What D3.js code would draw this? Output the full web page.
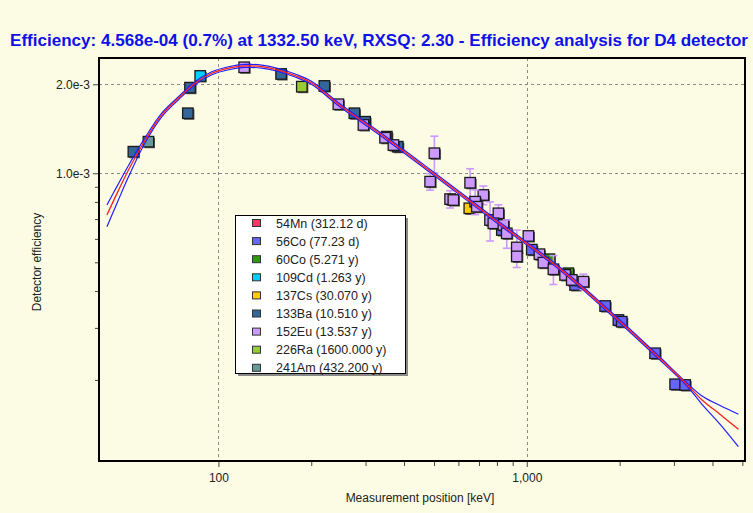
<!DOCTYPE html>
<html><head><meta charset="utf-8">
<script src="https://cdn.jsdelivr.net/npm/d3@7"></script>
<style>body{margin:0;background:#FCFCE4;} svg{display:block;font-family:"Liberation Sans",Arial,sans-serif}</style>
</head><body><svg id="c" width="753" height="513"></svg>
<script>
// ---------- data ----------
const nuclides = ["54Mn","56Co","60Co","109Cd","137Cs","133Ba","152Eu","226Ra","241Am"];
const halfLives = ["312.12 d","77.23 d","5.271 y","1.263 y","30.070 y","10.510 y","13.537 y","1600.000 y","432.200 y"];
const nuclideColors = ["#FF3366","#6666FF","#339900","#00CCFF","#FFCC00","#336699","#CC99FF","#99CC33","#669999"];

const co56Energy = [830, 1038, 1434, 1795, 1982, 2032, 2606, 3027, 3262];
const co56Eff    = [6.431e-4, 5.518e-4, 4.191e-4, 3.557e-4, 3.19e-4, 3.148e-4, 2.462e-4, 1.934e-4, 1.923e-4];
const co60Energy = [1184, 1364];
const co60Eff    = [5.121e-4, 4.591e-4];
const cd109Energy = [87.3];
const cd109Eff    = [2.134e-3];
const cs137Energy = [651];
const cs137Eff    = [7.613e-4];
const ba133Energy = [53.0, 79.6, 80.9, 159.7, 220.6, 276, 299, 351.6, 381.6];
const ba133Eff    = [1.183e-3, 1.596e-3, 1.948e-3, 2.167e-3, 1.974e-3, 1.596e-3, 1.494e-3, 1.330e-3, 1.230e-3];
const am241Energy = [59.3];
const am241Eff    = [1.279e-3];
const ra226Energy = [186.4];
const ra226Eff    = [1.963e-3];
const eu152Energy = [121.2, 244.9, 295.3, 347, 369.4, 501.6, 485.9, 564, 578, 655, 723, 680, 688.6, 760, 809, 779, 840, 861, 1012, 928, 928, 1099, 1132, 1220, 1331, 1399, 1526];
const eu152Eff    = [2.283e-3, 1.712e-3, 1.457e-3, 1.319e-3, 1.246e-3, 1.169e-3, 9.37e-4, 8.18e-4, 8.12e-4, 9.29e-4, 8.445e-4, 8.016e-4, 7.709e-4, 6.951e-4, 7.322e-4, 6.774e-4, 6.686e-4, 6.266e-4, 6.137e-4, 5.613e-4, 5.234e-4, 5.325e-4, 4.987e-4, 4.736e-4, 4.532e-4, 4.358e-4, 4.30e-4];
const eu152Err    = [0, 0, 0, 0, 0, 1.66e-4, 6.0e-5, 5.5e-5, 0, 1.07e-4, 6.1e-5, 7.7e-5, 0, 1.05e-4, 5.0e-5, 0, 0, 6.9e-5, 0, 8.1e-5, 0, 0, 0, 5.3e-5, 0, 0, 2.6e-5];

// fitted efficiency curve and its confidence band
const fitEnergy = [43.5, 46.9, 51.1, 57.9, 65.5, 74.2, 84.0, 95.2, 107.8, 122.1, 138.3, 156.5, 177.3, 200.9, 244.5, 347.2, 485.9, 819.2, 1282, 1963, 2606, 3300, 3700, 4250, 4855];
const fitEff   = [7.23e-4, 8.55e-4, 1.026e-3, 1.296e-3, 1.575e-3, 1.793e-3, 2.016e-3, 2.179e-3, 2.266e-3, 2.307e-3, 2.294e-3, 2.235e-3, 2.141e-3, 2.020e-3, 1.716e-3, 1.322e-3, 1.018e-3, 6.74e-4, 4.75e-4, 3.216e-4, 2.448e-4, 1.935e-4, 1.712e-4, 1.525e-4, 1.362e-4];
const fitUpper = [7.81e-4, 9.03e-4, 1.063e-3, 1.322e-3, 1.598e-3, 1.814e-3, 2.040e-3, 2.205e-3, 2.293e-3, 2.334e-3, 2.321e-3, 2.261e-3, 2.166e-3, 2.044e-3, 1.736e-3, 1.337e-3, 1.030e-3, 6.82e-4, 4.81e-4, 3.254e-4, 2.477e-4, 1.957e-4, 1.765e-4, 1.635e-4, 1.531e-4];
const fitLower = [6.60e-4, 7.92e-4, 9.73e-4, 1.271e-3, 1.553e-3, 1.772e-3, 1.993e-3, 2.154e-3, 2.240e-3, 2.280e-3, 2.267e-3, 2.209e-3, 2.116e-3, 1.997e-3, 1.696e-3, 1.307e-3, 1.006e-3, 6.66e-4, 4.70e-4, 3.179e-4, 2.420e-4, 1.912e-4, 1.655e-4, 1.410e-4, 1.189e-4];

const xMajorTicks = [100, 1000];
const xMajorLabels = ["100", "1,000"];
const xMinorTicks = [200, 300, 400, 500, 600, 700, 800, 900, 2000, 3000, 4000, 5000];
const yMajorTicks = [1e-3, 2e-3];
const yMajorLabels = ["1.0e-3", "2.0e-3"];
const yMinorTicks = [2e-4, 3e-4, 4e-4, 5e-4, 6e-4, 7e-4, 8e-4, 9e-4];

const titleText = "Efficiency: 4.568e-04 (0.7%) at 1332.50 keV, RXSQ: 2.30 - Efficiency analysis for D4 detector";
const xTitle = "Measurement position [keV]";
const yTitle = "Detector efficiency";

// ---------- layout ----------
const L = 99, R = 745, T = 58, B = 461;
const svg = d3.select("#c");
const x = d3.scaleLog().domain([41, 5100]).range([L, R]);
const y = d3.scaleLog().domain([1.064e-4, 2.454e-3]).range([B, T]);

svg.append("rect").attr("width", 753).attr("height", 513).attr("fill", "#FCFCE4");

// title
svg.append("text").attr("x", 10).attr("y", 46)
  .attr("textLength", 738).attr("lengthAdjust", "spacingAndGlyphs")
  .style("font-family", "'Liberation Sans Narrow','Arial Narrow','Liberation Sans',Arial,sans-serif")
  .style("font-weight", "bold").style("font-size", "17px").attr("fill", "#1010E8")
  .text(titleText);

// gridlines
const grid = svg.append("g").attr("stroke", "#8a8a8a").attr("stroke-dasharray", "3,3").attr("stroke-width", 1);
xMajorTicks.forEach(v => grid.append("line").attr("x1", Math.round(x(v)) + .5).attr("x2", Math.round(x(v)) + .5).attr("y1", T).attr("y2", B));
yMajorTicks.forEach(v => grid.append("line").attr("y1", Math.round(y(v)) + .5).attr("y2", Math.round(y(v)) + .5).attr("x1", L).attr("x2", R));

// axes
function styleAxis(g) {
  g.select(".domain").remove();
  g.selectAll("line").attr("stroke", "#444");
  g.selectAll("text").attr("fill", "#222").style("font-size", "12px").style("font-family", "'Liberation Sans',Arial,sans-serif");
}
svg.append("g").attr("transform", `translate(0,${B})`)
  .call(d3.axisBottom(x).tickValues(xMajorTicks).tickFormat((d, i) => xMajorLabels[i]).tickSize(6).tickPadding(6))
  .call(styleAxis);
svg.append("g").attr("transform", `translate(0,${B})`)
  .call(d3.axisBottom(x).tickValues(xMinorTicks).tickFormat("").tickSize(5))
  .call(styleAxis);
svg.append("g").attr("transform", `translate(${L},0)`)
  .call(d3.axisLeft(y).tickValues(yMajorTicks).tickFormat((d, i) => yMajorLabels[i]).tickSize(6).tickPadding(3))
  .call(styleAxis);
svg.append("g").attr("transform", `translate(${L},0)`)
  .call(d3.axisLeft(y).tickValues(yMinorTicks).tickFormat("").tickSize(4))
  .call(styleAxis);

svg.append("text").attr("x", 420).attr("y", 502).attr("text-anchor", "middle")
  .style("font-size", "12px").attr("fill", "#222").text(xTitle);
svg.append("text").attr("transform", "translate(41,262) rotate(-90)").attr("text-anchor", "middle")
  .style("font-size", "12px").attr("fill", "#222").text(yTitle);

// points
const plot = svg.append("g");
const groups = [
  [1, co56Energy, co56Eff, null],
  [2, co60Energy, co60Eff, null],
  [3, cd109Energy, cd109Eff, null],
  [4, cs137Energy, cs137Eff, null],
  [5, ba133Energy, ba133Eff, null],
  [8, am241Energy, am241Eff, null],
  [7, ra226Energy, ra226Eff, null],
  [6, eu152Energy, eu152Eff, eu152Err]
];
const S = 10.5;
groups.forEach(([ci, es, fs, errs]) => {
  es.forEach((e, i) => {
    const cx = x(e), cy = y(fs[i]);
    if (errs && errs[i] > 0) {
      const y1 = y(fs[i] + errs[i]), y2 = y(fs[i] - errs[i]);
      const eb = plot.append("g").attr("stroke", nuclideColors[ci]).attr("stroke-width", 1.6);
      eb.append("line").attr("x1", cx).attr("x2", cx).attr("y1", y1).attr("y2", y2);
      eb.append("line").attr("x1", cx - 4).attr("x2", cx + 4).attr("y1", y1).attr("y2", y1);
      eb.append("line").attr("x1", cx - 4).attr("x2", cx + 4).attr("y1", y2).attr("y2", y2);
    }
    plot.append("rect").attr("x", cx - S / 2 + 1.3).attr("y", cy - S / 2 + 1.3).attr("width", S).attr("height", S)
      .attr("fill", "#222").attr("opacity", 0.75);
    plot.append("rect").attr("x", cx - S / 2).attr("y", cy - S / 2).attr("width", S).attr("height", S)
      .attr("fill", nuclideColors[ci]).attr("stroke", "#1a1a1a").attr("stroke-width", 1.3);
  });
});

// curves
const line = d3.line().curve(d3.curveCatmullRom.alpha(0.5));
const mk = arr => fitEnergy.map((e, i) => [x(e), y(arr[i])]);
svg.append("path").attr("d", line(mk(fitUpper))).attr("fill", "none").attr("stroke", "#2020FF").attr("stroke-width", 1.2);
svg.append("path").attr("d", line(mk(fitLower))).attr("fill", "none").attr("stroke", "#2020FF").attr("stroke-width", 1.2);
svg.append("path").attr("d", line(mk(fitEff))).attr("fill", "none").attr("stroke", "#FF2020").attr("stroke-width", 1.3);

// frame
svg.append("rect").attr("x", L).attr("y", T).attr("width", R - L).attr("height", B - T)
  .attr("fill", "none").attr("stroke", "#000").attr("stroke-width", 2);

// legend
const lg = svg.append("g");
lg.append("rect").attr("x", 238).attr("y", 218).attr("width", 170).attr("height", 158).attr("fill", "#8a8a8a");
lg.append("rect").attr("x", 235.5).attr("y", 215.5).attr("width", 170).attr("height", 158).attr("fill", "#fff").attr("stroke", "#000").attr("stroke-width", 1);
nuclides.forEach((n, i) => {
  const ry = 223 + i * 18.1;
  lg.append("rect").attr("x", 252.5).attr("y", ry - 3.5).attr("width", 8).attr("height", 7)
    .attr("fill", nuclideColors[i]).attr("stroke", "#333").attr("stroke-width", 1);
  lg.append("text").attr("x", 276).attr("y", ry + 4.5).style("font-size", "12.5px").attr("fill", "#222")
    .text(`${n} (${halfLives[i]})`);
});
</script></body></html>
